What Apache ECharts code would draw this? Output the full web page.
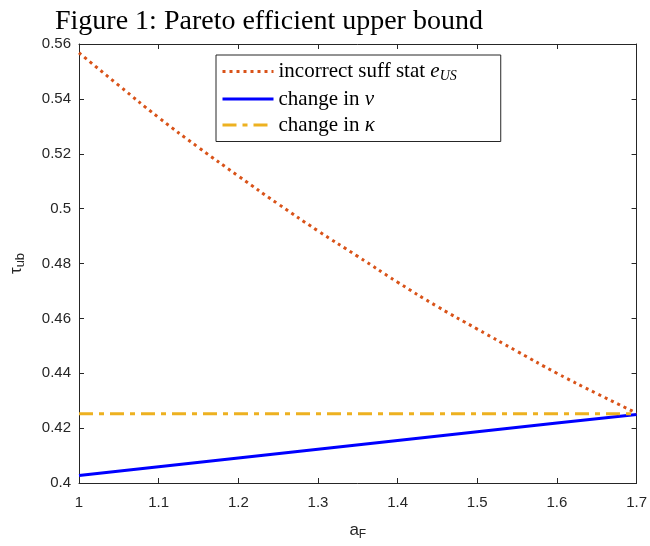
<!DOCTYPE html>
<html><head><meta charset="utf-8">
<script src="https://cdn.jsdelivr.net/npm/echarts@6/dist/echarts.min.js"></script>
<style>html,body{margin:0;padding:0;background:#fff}#c{width:650px;height:546px}</style>
</head><body><div id="c"></div>
<script>
const xOrange = [1.00,1.05,1.10,1.15,1.20,1.25,1.30,1.35,1.40,1.45,1.50,1.55,1.60,1.65,1.70];
const orangeVals = [0.5568,0.5449,0.5332,0.5223,0.5119,0.5017,0.4919,0.4826,0.4732,0.4643,0.4561,0.4480,0.4400,0.4326,0.4255];
const xBlue = [1.0,1.1,1.2,1.3,1.4,1.5,1.6,1.7];
const blueVals = [0.4027,0.4059,0.4091,0.4123,0.4155,0.4187,0.4219,0.4250];
const xYellow = [1.0,1.7];
const yellowVals = [0.4252,0.4252];
const seriesNames = ['incorrect suff stat e_US','change in \u03bd','change in \u03ba'];

const pair = (xs, ys) => xs.map((x,i)=>[x, ys[i]]);
const axisColor = '#262626';
const lab = {color:'#262626', fontFamily:'Liberation Sans', fontSize:15};

const chart = echarts.init(document.getElementById('c'), null, {renderer:'canvas'});
const baseX = {type:'value', min:1, max:1.7, interval:0.1, gridIndex:0,
  axisLine:{show:true, onZero:false, lineStyle:{color:axisColor,width:1}},
  axisTick:{show:true, inside:true, length:5, lineStyle:{color:axisColor}},
  splitLine:{show:false}};
const baseY = {type:'value', min:0.4, max:0.56, interval:0.02, gridIndex:0,
  axisLine:{show:true, onZero:false, lineStyle:{color:axisColor,width:1}},
  axisTick:{show:true, inside:true, length:5, lineStyle:{color:axisColor}},
  splitLine:{show:false}};

chart.setOption({
  animation:false,
  backgroundColor:'#fff',
  title:{text:'Figure 1: Pareto efficient upper bound', left:50, top:3,
    textStyle:{fontFamily:'Liberation Serif', fontWeight:'normal', fontSize:28, color:'#000'}},
  grid:{left:76, right:13, top:44, bottom:62},
  legend:{
    orient:'vertical', left:216, top:55,
    data:seriesNames,
    borderColor:axisColor, borderWidth:1, backgroundColor:'#fff',
    padding:[6,44,6,5], itemGap:5, itemWidth:51, itemHeight:22,
    itemStyle:{opacity:0},
    lineStyle:{width:3},
    textStyle:{fontFamily:'Liberation Serif', fontSize:21, color:'#000', padding:[0,0,0,0],
      rich:{
        e:{fontFamily:'Liberation Serif', fontStyle:'italic', fontSize:21, color:'#000'},
        s:{fontFamily:'Liberation Serif', fontStyle:'italic', fontSize:14, color:'#000', padding:[10,0,0,0]}
      }},
    formatter:function(n){
      if(n===seriesNames[0]) return 'incorrect suff stat {e|e}{s|US}';
      if(n===seriesNames[1]) return 'change in {e|\u03bd}';
      return 'change in {e|\u03ba}';
    }
  },
  xAxis:[
    Object.assign({}, baseX, {position:'bottom',
      axisLabel:Object.assign({margin:12}, lab),
      name:'{a|a}{s|F}', nameLocation:'middle', nameGap:36,
      nameTextStyle:{rich:{a:{fontFamily:'Liberation Sans', fontSize:17, color:'#262626'},
        s:{fontFamily:'Liberation Sans', fontSize:12, color:'#262626', padding:[10,0,0,0]}}}}),
    Object.assign({}, baseX, {position:'top', axisLabel:{show:false}})
  ],
  yAxis:[
    Object.assign({}, baseY, {position:'left',
      axisLabel:Object.assign({margin:8}, lab),
      name:'{t|\u03c4}{s|ub}', nameLocation:'middle', nameGap:52, nameRotate:90,
      nameTextStyle:{rich:{t:{fontFamily:'Liberation Sans', fontSize:17, color:'#262626'},
        s:{fontFamily:'Liberation Sans', fontSize:13, color:'#262626', padding:[8,0,0,0]}}}}),
    Object.assign({}, baseY, {position:'right', axisLabel:{show:false}})
  ],
  series:[
    {name:seriesNames[0], type:'line', xAxisIndex:0, yAxisIndex:0, symbol:'none', smooth:true,
      data:pair(xOrange, orangeVals),
      lineStyle:{color:'#D95319', width:3, type:[3,4]}, itemStyle:{color:'#D95319'}, z:3},
    {name:seriesNames[1], type:'line', xAxisIndex:0, yAxisIndex:0, symbol:'none',
      data:pair(xBlue, blueVals),
      lineStyle:{color:'#0000FF', width:3, type:'solid'}, itemStyle:{color:'#0000FF'}, z:2},
    {name:seriesNames[2], type:'line', xAxisIndex:0, yAxisIndex:0, symbol:'none',
      data:pair(xYellow, yellowVals),
      lineStyle:{color:'#EDB120', width:3, type:[14,6,5,6]}, itemStyle:{color:'#EDB120'}, z:2}
  ]
});
</script></body></html>
